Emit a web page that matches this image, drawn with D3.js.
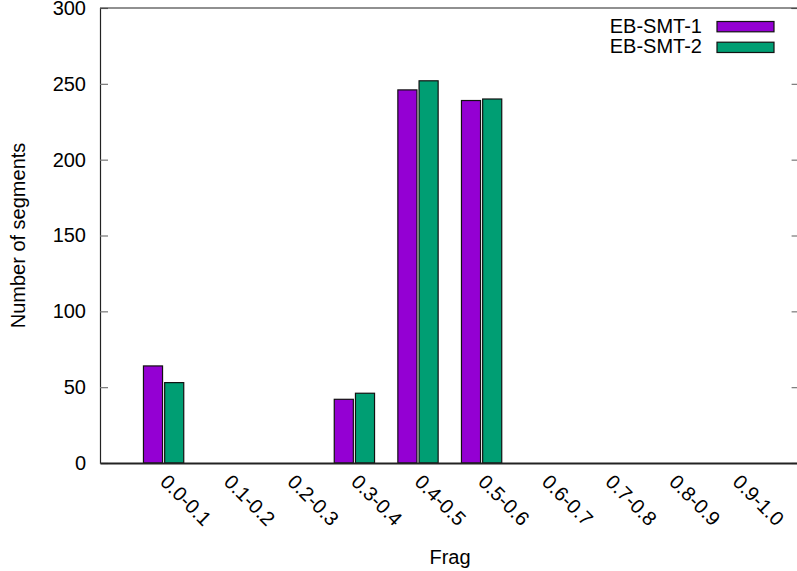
<!DOCTYPE html>
<html>
<head>
<meta charset="utf-8">
<script src="https://cdn.jsdelivr.net/npm/d3@7"></script>
<style>
  html, body { margin: 0; padding: 0; background: #fff; }
  svg { display: block; }
  text { font-family: "Liberation Sans", Arial, Helvetica, sans-serif; fill: #000; }
</style>
</head>
<body>
<svg id="chart" width="797" height="571"></svg>
<script>
// Fragment-ratio histogram: number of segments per bin for two systems
const categories = ["0.0-0.1", "0.1-0.2", "0.2-0.3", "0.3-0.4", "0.4-0.5",
                    "0.5-0.6", "0.6-0.7", "0.7-0.8", "0.8-0.9", "0.9-1.0"];
const seriesNames = ["EB-SMT-1", "EB-SMT-2"];
const smt1 = [64, 0, 0, 42, 246, 239, 0, 0, 0, 0];
const smt2 = [53, 0, 0, 46, 252, 240, 0, 0, 0, 0];
const yTicks = [0, 50, 100, 150, 200, 250, 300];
const colors = ["#9400d3", "#009e73"];

const svg = d3.select("#chart");
const plotLeft = 100, plotRight = 799.6, plotTop = 8, plotBottom = 463;
const fontSize = 20;

// category index -> x (one extra unit of padding on each side)
const x = d3.scaleLinear().domain([-1, categories.length]).range([plotLeft, plotRight]);
const y = d3.scaleLinear().domain([0, 300]).range([plotBottom, plotTop]);

const unit = x(1) - x(0);
const slot = unit / (seriesNames.length + 1);   // gap of one bar width between clusters
const barW = slot * 0.9;
const series = [smt1, smt2];

// bars
series.forEach((vals, s) => {
  svg.append("g").selectAll("rect")
    .data(vals.map((v, i) => ({ v, i })).filter(d => d.v > 0))
    .join("rect")
    .attr("x", d => x(d.i) + (s - (seriesNames.length - 1) / 2) * slot - barW / 2)
    .attr("y", d => y(d.v))
    .attr("width", barW)
    .attr("height", d => y(0) - y(d.v))
    .attr("fill", colors[s])
    .attr("stroke", "#111")
    .attr("stroke-width", 1.2);
});

// left axis with inward ticks
const yAxisL = d3.axisLeft(y).tickValues(yTicks).tickSize(-8).tickPadding(14);
const gL = svg.append("g").attr("transform", `translate(${plotLeft},0)`).call(yAxisL);
gL.select(".domain").attr("stroke", "#222").attr("stroke-width", 1.2);
gL.selectAll(".tick line").attr("stroke", "#777").attr("stroke-width", 1.2);
gL.selectAll(".tick text").attr("font-size", fontSize)
  .attr("font-family", "Liberation Sans, Arial, sans-serif").attr("fill", "#000");

// mirrored ticks on the right
const yAxisR = d3.axisRight(y).tickValues(yTicks).tickSize(-8).tickFormat("");
const gR = svg.append("g").attr("transform", `translate(${plotRight},0)`).call(yAxisR);
gR.select(".domain").attr("stroke", "#222");
gR.selectAll(".tick line").attr("stroke", "#777").attr("stroke-width", 1.2);

// top border
svg.append("line").attr("x1", plotLeft).attr("x2", plotRight)
  .attr("y1", plotTop).attr("y2", plotTop)
  .attr("stroke", "#222").attr("stroke-width", 1.2);

// bottom axis: rotated category labels
const xAxis = d3.axisBottom(x).tickValues(d3.range(categories.length))
  .tickFormat(i => categories[i]).tickSize(0);
const gB = svg.append("g").attr("transform", `translate(0,${plotBottom})`).call(xAxis);
gB.select(".domain").attr("stroke", "#222").attr("stroke-width", 2);
gB.selectAll(".tick text")
  .attr("font-size", fontSize)
  .attr("font-family", "Liberation Sans, Arial, sans-serif")
  .attr("fill", "#000")
  .attr("text-anchor", "start")
  .attr("y", 0).attr("dy", 0)
  .attr("transform", "translate(-5,20) rotate(45)");

// axis titles
svg.append("text")
  .attr("transform", `translate(25,${(plotTop + plotBottom) / 2}) rotate(-90)`)
  .attr("text-anchor", "middle")
  .attr("font-size", fontSize)
  .text("Number of segments");

svg.append("text")
  .attr("x", 450).attr("y", 564)
  .attr("text-anchor", "middle")
  .attr("font-size", fontSize)
  .text("Frag");

// legend
const legend = svg.append("g");
seriesNames.forEach((name, s) => {
  const ly = 26.5 + s * 20.7;
  legend.append("text")
    .attr("x", 702).attr("y", ly + 6)
    .attr("text-anchor", "end")
    .attr("font-size", fontSize)
    .text(name);
  legend.append("rect")
    .attr("x", 717).attr("y", ly - 5)
    .attr("width", 57).attr("height", 10.3)
    .attr("fill", colors[s])
    .attr("stroke", "#111")
    .attr("stroke-width", 1.2);
});
</script>
</body>
</html>
